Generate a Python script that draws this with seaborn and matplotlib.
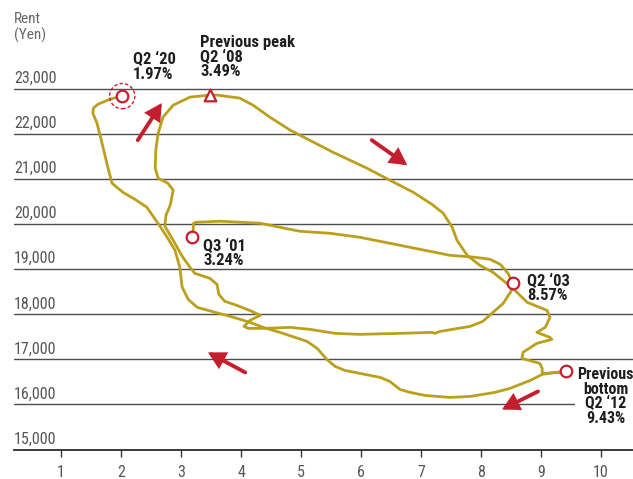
import matplotlib
matplotlib.use("Agg")
import matplotlib.pyplot as plt
from matplotlib import font_manager as fm
import pandas as pd
import seaborn as sns

# ---------------- data (vacancy rate %, rent in yen) ----------------
# 2001 Q3 -> 2008 Q2
cycle1_vacancy = [3.19, 3.20, 3.21, 3.25, 3.65, 4.32, 4.98, 5.48, 5.98, 6.48, 6.98, 7.48, 7.90, 8.15,
                  8.32, 8.45, 8.53, 8.50, 8.37, 8.20, 8.03, 7.82, 7.32, 7.23, 7.18, 6.65, 5.98, 5.57,
                  5.15, 4.82, 4.40, 4.12, 4.05, 4.15, 4.32, 4.18, 3.93, 3.73, 3.63, 3.60, 3.48, 3.23,
                  3.15, 3.02, 2.87, 2.73, 2.75, 2.82, 2.87, 2.78, 2.62, 2.57, 2.58, 2.62, 2.70, 2.87,
                  3.15, 3.48]
cycle1_rent = [19711, 19844, 20022, 20044, 20067, 20022, 19844, 19800, 19711, 19578, 19444, 19311, 19267, 19222,
               19111, 18911, 18689, 18511, 18244, 18044, 17844, 17733, 17622, 17578, 17600, 17578, 17556, 17578,
               17667, 17711, 17689, 17689, 17733, 17867, 17978, 18067, 18200, 18289, 18444, 18667, 18800, 18911,
               19044, 19289, 19644, 19956, 20200, 20422, 20756, 20911, 21022, 21244, 21644, 22022, 22378, 22644,
               22822, 22867]
# 2008 Q2 -> 2012 Q2
cycle2_vacancy = [3.48, 3.60, 3.98, 4.20, 4.48, 4.82, 4.98, 5.53, 6.10, 6.48, 6.87, 7.18, 7.37, 7.52, 7.60,
                  7.77, 7.98, 8.20, 8.53, 8.77, 9.10, 9.15, 9.07, 8.93, 9.15, 9.18, 8.93, 8.70, 8.68, 8.98,
                  9.02, 9.02, 9.32, 9.42]
cycle2_rent = [22867, 22867, 22800, 22644, 22378, 22089, 21978, 21600, 21244, 20978, 20711, 20444, 20244, 19933, 19644,
               19311, 19089, 18933, 18578, 18267, 18089, 17933, 17711, 17600, 17489, 17444, 17356, 17156, 17022, 16911,
               16800, 16689, 16711, 16733]
# 2012 Q2 -> 2020 Q2
cycle3_vacancy = [9.42, 9.23, 9.02, 8.82, 8.65, 8.48, 8.23, 7.82, 7.48, 7.07, 6.82, 6.65, 6.48, 6.32, 5.73,
                  5.57, 5.43, 5.27, 5.10, 4.65, 4.37, 4.15, 3.82, 3.57, 3.27, 3.12, 3.02, 2.98, 2.90, 2.78,
                  2.65, 2.43, 2.23, 2.03, 1.85, 1.78, 1.70, 1.60, 1.53, 1.54, 1.62, 1.82, 2.02]
cycle3_rent = [16733, 16711, 16667, 16533, 16444, 16356, 16267, 16178, 16156, 16200, 16267, 16333, 16511, 16600, 16756,
               16844, 17000, 17244, 17400, 17600, 17711, 17822, 17956, 18044, 18156, 18333, 18600, 19044, 19422, 19689,
               19956, 20378, 20556, 20711, 20911, 21267, 21711, 22244, 22467, 22578, 22667, 22778, 22844]

# highlighted quarters
point_labels = ["Q3 \u201801\n3.24%", "Q2 \u201803\n8.57%", "Q2 \u201812\n9.43%", "Q2 \u201820\n1.97%"]
point_vacancy = [3.19, 8.53, 9.42, 2.02]
point_rent = [19711, 18689, 16733, 22844]
peak_vacancy = [3.48]
peak_rent = [22867]

x_ticks = [1, 2, 3, 4, 5, 6, 7, 8, 9, 10]
y_ticks = [15000, 16000, 17000, 18000, 19000, 20000, 21000, 22000, 23000]

# ---------------- style ----------------
GOLD = "#BBA01E"
RED = "#C41F2E"
GREY = "#555555"
INK = "#1E1E1E"

sns.set_theme(style="white")


def pick(names):
    for n in names:
        try:
            fm.findfont(fm.FontProperties(family=n), fallback_to_default=False)
            return n
        except Exception:
            pass
    return "DejaVu Sans"


FONT = pick(["Liberation Sans Narrow", "DejaVu Sans Condensed", "Roboto Condensed", "Liberation Sans"])
plt.rcParams["font.family"] = [FONT, "DejaVu Sans"]

W, H = 633, 479
fig = plt.figure(figsize=(W / 100, H / 100), dpi=100)
ax = fig.add_axes([14 / W, (H - 449.5) / H, (W - 14) / W, 449.5 / H])
ax.set_xlim((14 - 1) / 60, (W - 1) / 60)
ax.set_ylim(15000, 23000 + 89 / 0.045)

# grid lines
ax.set_yticks(y_ticks[1:])
ax.yaxis.grid(True, color="#4d4d4d", lw=1.0)
ax.xaxis.grid(False)
ax.tick_params(axis="y", length=0, labelleft=False)
for s in ["left", "right", "top"]:
    ax.spines[s].set_visible(False)
ax.spines["bottom"].set_color("#2a2a2a")
ax.spines["bottom"].set_linewidth(1.3)

ax.set_xticks(x_ticks)
ax.set_xticklabels([str(v) for v in x_ticks])
ax.tick_params(axis="x", bottom=True, length=5, width=1.0, color="#333333",
               labelsize=11.5, labelcolor=GREY, pad=6.5, direction="out")

for v in y_ticks:
    ax.annotate(f"{v:,}", xy=(0, v), xycoords=("axes fraction", "data"), xytext=(0, 4.3),
                textcoords="offset points", ha="left", va="baseline", fontsize=11.5, color=GREY)
fig.text(14 / W, 1 - 12 / H, "Rent\n(Yen)", ha="left", va="top", fontsize=11, color="#666666",
         linespacing=1.15)

# curves
for vac, rent in [(cycle1_vacancy, cycle1_rent), (cycle2_vacancy, cycle2_rent), (cycle3_vacancy, cycle3_rent)]:
    df = pd.DataFrame({"vacancy": vac, "rent": rent})
    sns.lineplot(data=df, x="vacancy", y="rent", sort=False, estimator=None, color=GOLD, lw=2.0,
                 solid_joinstyle="round", solid_capstyle="round", ax=ax, zorder=3)
ax.set_xlabel("")
ax.set_ylabel("")

# markers
ax.scatter(point_vacancy, point_rent, s=70, facecolor="white", edgecolor=RED, linewidth=1.6, zorder=6)
ax.scatter(point_vacancy[3:], point_rent[3:], s=330, facecolor="none", edgecolor=RED, linewidth=1.0,
           linestyle=(0, (2.5, 1.5)), zorder=6)
ax.scatter(peak_vacancy, peak_rent, marker="^", s=70, facecolor="white", edgecolor=RED, linewidth=1.6, zorder=6)

# arrows (tail -> head)
arrows = [((2.28, 21867), (2.68, 22689)), ((6.18, 21867), (6.77, 21311)),
          ((4.07, 16711), (3.45, 17156)), ((8.95, 16289), (8.35, 15889))]
for tail, head in arrows:
    ax.annotate("", xy=head, xytext=tail,
                arrowprops=dict(arrowstyle="-|>,head_length=0.7,head_width=0.38", lw=2.8, color=RED,
                                shrinkA=0, shrinkB=0, mutation_scale=12, joinstyle="miter"), zorder=5)

# annotations
tkw = dict(fontweight="bold", color=INK, va="top", linespacing=0.95, zorder=7)
ax.text(2.20, 23822, point_labels[3], ha="left", fontsize=12, **tkw)
ax.text(3.32, 24200, "Previous peak\nQ2 \u201808\n3.49%", ha="left", fontsize=12, **tkw)
ax.text(3.37, 19689, point_labels[0], ha="left", fontsize=12, **tkw)
ax.text(8.77, 18911, point_labels[1], ha="left", fontsize=12, **tkw)
ax.text(10.08, 16822, "Previous\nbottom\n" + point_labels[2], ha="center", multialignment="center",
        fontsize=11.5, bbox=dict(facecolor="white", edgecolor="none", pad=1.5), **tkw)

fig.savefig("out.png", dpi=100)
